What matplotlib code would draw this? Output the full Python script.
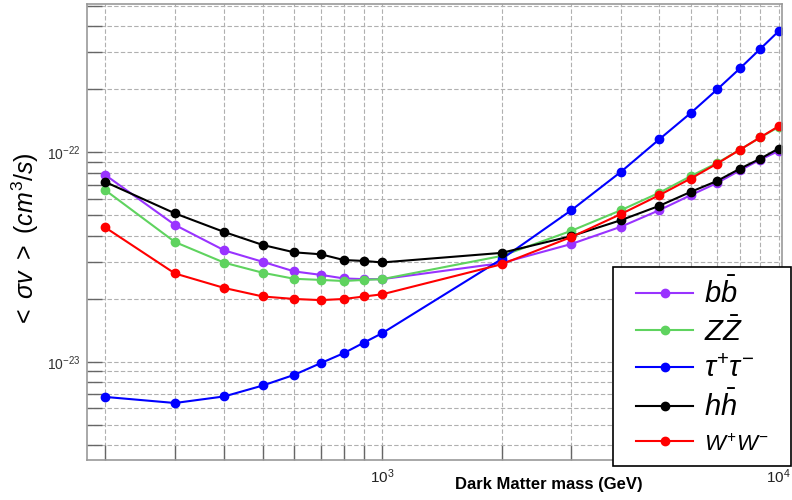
import matplotlib
matplotlib.use('Agg')
import matplotlib.pyplot as plt
from matplotlib.ticker import LogLocator, NullFormatter
from matplotlib.legend_handler import HandlerLine2D

# Dark matter annihilation cross section limits vs mass
mass = [200, 300, 400, 500, 600, 700, 800, 900, 1000,
        2000, 3000, 4000, 5000, 6000, 7000, 8000, 9000, 10000]

sv_bb = [7.8e-23, 4.5e-23, 3.4e-23, 3.0e-23, 2.7e-23, 2.6e-23, 2.5e-23, 2.48e-23, 2.48e-23,
         2.96e-23, 3.65e-23, 4.41e-23, 5.29e-23, 6.24e-23, 7.14e-23, 8.21e-23, 9.23e-23, 1.014e-22]
sv_zz = [6.6e-23, 3.73e-23, 2.97e-23, 2.66e-23, 2.49e-23, 2.46e-23, 2.43e-23, 2.46e-23, 2.48e-23,
         3.2e-23, 4.22e-23, 5.29e-23, 6.41e-23, 7.69e-23, 8.89e-23, 1.03e-22, 1.178e-22, 1.32e-22]
sv_tautau = [6.8e-24, 6.36e-24, 6.84e-24, 7.71e-24, 8.67e-24, 9.86e-24, 1.10e-23, 1.236e-23, 1.37e-23,
             3.09e-23, 5.29e-23, 8.06e-23, 1.153e-22, 1.538e-22, 1.995e-22, 2.52e-22, 3.12e-22, 3.78e-22]
sv_hh = [7.22e-23, 5.11e-23, 4.16e-23, 3.61e-23, 3.33e-23, 3.26e-23, 3.06e-23, 3.03e-23, 2.98e-23,
         3.31e-23, 3.98e-23, 4.74e-23, 5.55e-23, 6.47e-23, 7.30e-23, 8.36e-23, 9.33e-23, 1.041e-22]
sv_ww = [4.38e-23, 2.64e-23, 2.25e-23, 2.05e-23, 1.995e-23, 1.97e-23, 1.995e-23, 2.05e-23, 2.10e-23,
         2.92e-23, 3.94e-23, 5.07e-23, 6.24e-23, 7.49e-23, 8.83e-23, 1.03e-22, 1.18e-22, 1.33e-22]

channels = [r'$b\bar{b}$', r'$Z\bar{Z}$', r'$\tau^{+}\tau^{-}$', r'$h\bar{h}$', r'$W^{+}W^{-}$']
colours = ['#9933ff', '#5fd35f', '#0000ff', '#000000', '#ff0000']

plt.rcParams['font.family'] = ['Liberation Sans', 'DejaVu Sans']
plt.rcParams['mathtext.fontset'] = 'custom'
plt.rcParams['mathtext.rm'] = 'Liberation Sans'
plt.rcParams['mathtext.it'] = 'Liberation Sans:italic'
plt.rcParams['mathtext.bf'] = 'Liberation Sans:bold'

fig = plt.figure(figsize=(7.92, 5.0), dpi=100)
ax = fig.add_axes([87/792, 40/500, 695/792, 456/500])

series = [sv_bb, sv_zz, sv_tautau, sv_hh, sv_ww]
for vals, lab, col in zip(series, channels, colours):
    ax.plot(mass, vals, '-o', color=col, lw=1.5, ms=6, label=lab)

ax.set_xscale('log')
ax.set_yscale('log')
ax.set_xlim(180, 10200)
ax.set_ylim(3.4e-24, 5.1e-22)

ax.xaxis.set_minor_locator(LogLocator(base=10, subs=range(2, 10)))
ax.yaxis.set_minor_locator(LogLocator(base=10, subs=range(2, 10)))
ax.xaxis.set_minor_formatter(NullFormatter())
ax.yaxis.set_minor_formatter(NullFormatter())

ax.grid(True, which='both', ls=(0, (4, 2)), lw=0.8, color='#b0b0b0')
ax.set_axisbelow(True)

ax.tick_params(which='both', direction='in', color='#666666', width=1, length=11)
ax.tick_params(which='minor', labelleft=False, labelbottom=False)
ax.tick_params(axis='x', labelsize=11, pad=5, labelcolor='#222222')
ax.tick_params(axis='y', labelsize=10, pad=5, labelcolor='#333333')

for sp in ax.spines.values():
    sp.set_color('#999999')
    sp.set_linewidth(1.2)

ax.set_xlabel('Dark Matter mass (GeV)', fontsize=12, fontweight='bold')
ax.xaxis.set_label_coords(0.665, -0.037)
ax.set_ylabel(r'$<\ \sigma v\ >\ (cm^{3}/s)$', fontsize=18)
ax.yaxis.set_label_coords(-0.066, 0.482)

leg = ax.legend(loc='upper left', bbox_to_anchor=(613/792, 38/500, 178/792, 195/500),
                bbox_transform=fig.transFigure, mode='expand', fontsize=21,
                frameon=True, fancybox=False, edgecolor='black', framealpha=1,
                handlelength=2.4, handletextpad=0.38, labelspacing=0.28,
                borderpad=0.35, borderaxespad=0,
                handler_map={plt.Line2D: HandlerLine2D(xpad=0.45)})
leg.get_frame().set_linewidth(1.2)
leg.get_texts()[-1].set_fontsize(16)

fig.savefig('out.png', dpi=100)
